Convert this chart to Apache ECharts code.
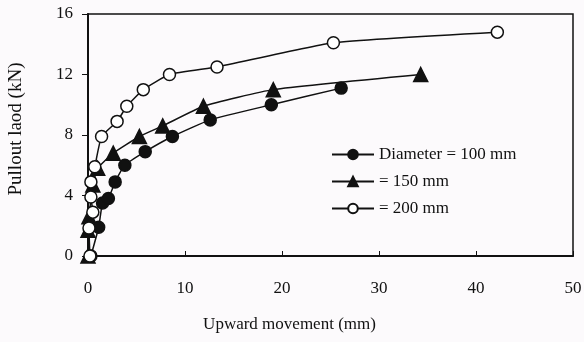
<!DOCTYPE html>
<html>
<head>
<meta charset="utf-8">
<script src="https://cdn.jsdelivr.net/npm/echarts@6/dist/echarts.min.js"></script>
<style>
  html, body { margin: 0; padding: 0; background: #fcfafc; }
  #chart { width: 584px; height: 342px; }
</style>
</head>
<body>
<div id="chart"></div>
<script>
// upward movement (mm), pullout load (kN)
const d100 = [[0.3, 0], [1.1, 1.9], [1.5, 3.5], [2.1, 3.8], [2.8, 4.9], [3.8, 6.0], [5.9, 6.9], [8.7, 7.9], [12.6, 9.0], [18.9, 10.0], [26.1, 11.1]];
const d150 = [[0, 0], [0, 1.7], [0.1, 2.6], [0.5, 4.7], [1.0, 5.8], [2.6, 6.8], [5.3, 7.9], [7.7, 8.6], [11.9, 9.9], [19.1, 11.0], [34.3, 12.0]];
const d200 = [[0.2, 0], [0.1, 1.85], [0.5, 2.9], [0.3, 3.9], [0.3, 4.9], [0.7, 5.9], [1.4, 7.9], [3.0, 8.9], [4.0, 9.9], [5.7, 11.0], [8.4, 12.0], [13.3, 12.5], [25.3, 14.1], [42.2, 14.8]];
const seriesNames = ['Diameter = 100 mm', '= 150 mm', '= 200 mm'];

const font = '"Liberation Serif", "Times New Roman", serif';
const ink = '#111';

const chart = echarts.init(document.getElementById('chart'));

function lineSeries(name, data, symbol, fill) {
  return {
    name: name,
    type: 'line',
    data: data,
    smooth: 0.15,
    symbol: symbol,
    symbolSize: symbol === 'triangle' ? 14 : 12,
    lineStyle: { color: ink, width: 1.5 },
    itemStyle: { color: fill, borderColor: ink, borderWidth: 1.5 },
    z: 3
  };
}

chart.setOption({
  backgroundColor: '#fcfafc',
  animation: false,
  grid: {
    left: 88, right: 11, top: 14, bottom: 86,
    outerBoundsMode: 'none', containLabel: false,
    show: true, borderColor: ink, borderWidth: 1.5, backgroundColor: 'transparent'
  },
  legend: {
    orient: 'vertical',
    left: 326, top: 141,
    itemWidth: 42, itemHeight: 12, itemGap: 10,
    data: seriesNames,
    textStyle: { fontFamily: font, fontSize: 17, color: ink, lineHeight: 17 }
  },
  xAxis: {
    type: 'value', min: 0, max: 50, interval: 10,
    name: 'Upward movement (mm)', nameLocation: 'middle', nameGap: 60,
    nameTextStyle: { fontFamily: font, fontSize: 17, color: ink, padding: [0, 82, 0, 0] },
    axisLine: { lineStyle: { color: ink, width: 2 } },
    axisTick: { inside: true, length: 5, lineStyle: { color: ink, width: 1 } },
    axisLabel: { fontFamily: font, fontSize: 17, color: ink, margin: 24 },
    splitLine: { show: false }
  },
  yAxis: {
    type: 'value', min: 0, max: 16, interval: 4,
    name: 'Pullout laod (kN)', nameLocation: 'middle', nameGap: 62,
    nameTextStyle: { fontFamily: font, fontSize: 19, color: ink, padding: [0, 0, 0, 12] },
    axisLine: { show: true, lineStyle: { color: ink, width: 2 } },
    axisTick: { show: true, inside: false, length: 6, lineStyle: { color: ink, width: 1 } },
    axisLabel: { fontFamily: font, fontSize: 17, color: ink, margin: 15 },
    splitLine: { show: false }
  },
  series: [
    lineSeries(seriesNames[0], d100, 'circle', ink),
    lineSeries(seriesNames[1], d150, 'triangle', ink),
    lineSeries(seriesNames[2], d200, 'circle', '#fff')
  ]
});
</script>
</body>
</html>
